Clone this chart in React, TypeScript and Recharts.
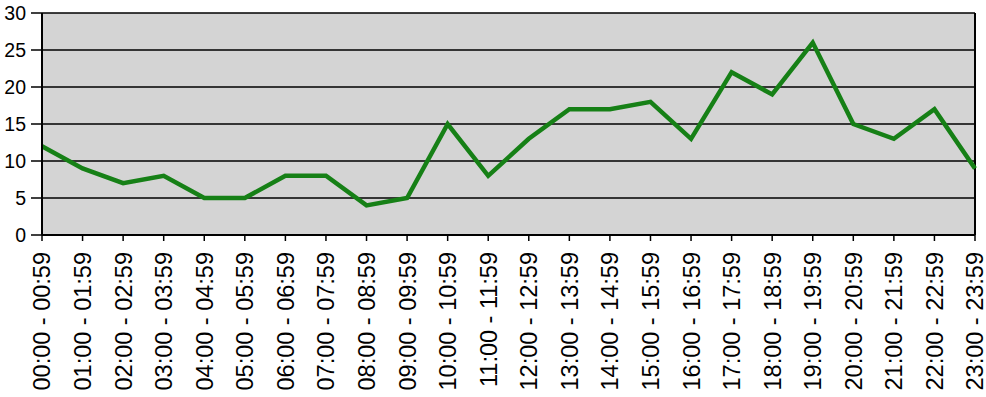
import React from "react";
import { LineChart, Line, XAxis, YAxis, CartesianGrid, ReferenceLine } from "recharts";

const categories = [
  "00:00 - 00:59", "01:00 - 01:59", "02:00 - 02:59", "03:00 - 03:59",
  "04:00 - 04:59", "05:00 - 05:59", "06:00 - 06:59", "07:00 - 07:59",
  "08:00 - 08:59", "09:00 - 09:59", "10:00 - 10:59", "11:00 - 11:59",
  "12:00 - 12:59", "13:00 - 13:59", "14:00 - 14:59", "15:00 - 15:59",
  "16:00 - 16:59", "17:00 - 17:59", "18:00 - 18:59", "19:00 - 19:59",
  "20:00 - 20:59", "21:00 - 21:59", "22:00 - 22:59", "23:00 - 23:59",
];
const values = [12, 9, 7, 8, 5, 5, 8, 8, 4, 5, 15, 8, 13, 17, 17, 18, 13, 22, 19, 26, 15, 13, 17, 9];
const yTicks = [0, 5, 10, 15, 20, 25, 30];

const data = categories.map((c, i) => ({ name: c, v: values[i] }));

const FONT = "'Liberation Sans', Arial, sans-serif";

const XTick = (props: any) => {
  const { x, y, payload } = props;
  return (
    <g transform={`translate(${x},${y})`}>
      <text
        transform="rotate(-90)"
        x={-2}
        y={0}
        dy="0.36em"
        textAnchor="end"
        fill="#000"
        fontSize={23.5}
        fontFamily={FONT}
      >
        {payload.value}
      </text>
    </g>
  );
};

export default function App() {
  return (
    <div style={{ position: "fixed", left: 0, top: 0, width: 986, height: 397, background: "#fff" }}>
      <LineChart width={986} height={397} data={data} margin={{ top: 13, right: 11, bottom: 0, left: 0 }}>
        <CartesianGrid vertical={false} stroke="#000" strokeWidth={1.5} fill="#d4d4d4" fillOpacity={1} />
        <XAxis
          dataKey="name"
          interval={0}
          height={162}
          tick={<XTick />}
          tickSize={6}
          tickMargin={9}
          axisLine={{ stroke: "#000", strokeWidth: 2 }}
          tickLine={{ stroke: "#000", strokeWidth: 1.5 }}
        />
        <YAxis
          domain={[0, 30]}
          ticks={yTicks}
          width={42}
          interval={0}
          tickSize={11}
          tickMargin={5}
          axisLine={{ stroke: "#000", strokeWidth: 2 }}
          tickLine={{ stroke: "#000", strokeWidth: 1.5 }}
          tick={{ fill: "#000", fontSize: 19.5, fontFamily: FONT }}
        />
        <ReferenceLine x={categories[categories.length - 1]} stroke="#000" strokeWidth={2} />
        <Line
          type="linear"
          dataKey="v"
          stroke="#168016"
          strokeWidth={4.5}
          dot={false}
          isAnimationActive={false}
        />
      </LineChart>
    </div>
  );
}
